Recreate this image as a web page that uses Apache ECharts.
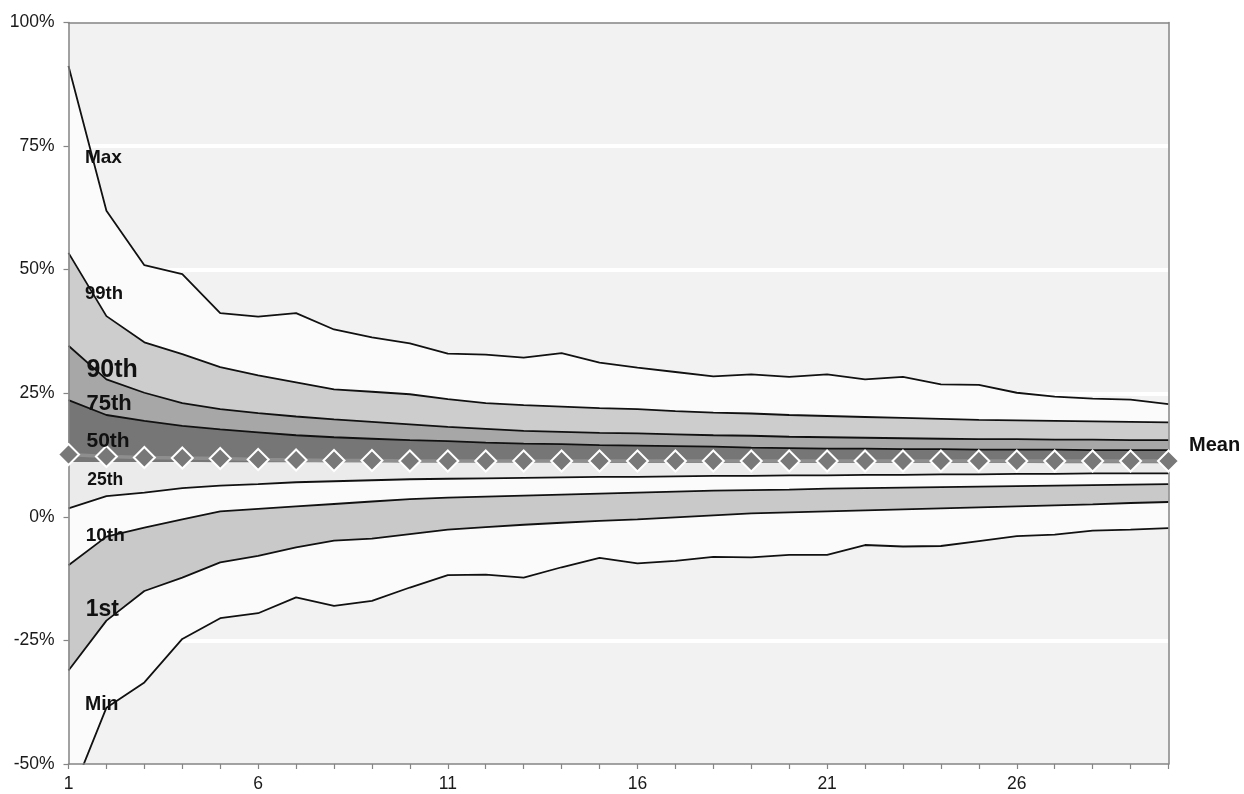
<!DOCTYPE html>
<html>
<head>
<meta charset="utf-8">
<script src="https://cdn.jsdelivr.net/npm/echarts@6/dist/echarts.min.js"></script>
<style>
html,body{margin:0;padding:0;background:#fff;}
#c{width:1244px;height:794px;}
</style>
</head>
<body>
<div id="c"></div>
<script>
// ---- data ----
const periods = ['1','2','3','4','5','6','7','8','9','10','11','12','13','14','15','16','17','18','19','20','21','22','23','24','25','26','27','28','29','30'];
const pMax = [91.2,61.9,50.9,49.1,41.2,40.5,41.2,37.9,36.3,35.1,33.0,32.8,32.2,33.1,31.2,30.2,29.3,28.4,28.8,28.3,28.8,27.8,28.3,26.8,26.7,25.1,24.3,23.9,23.7,22.8];
const p99 = [53.4,40.6,35.3,32.9,30.3,28.6,27.2,25.8,25.3,24.8,23.8,23.0,22.6,22.3,22.0,21.8,21.4,21.1,20.9,20.6,20.4,20.2,20.0,19.8,19.6,19.5,19.4,19.3,19.2,19.1];
const p90 = [34.6,27.8,25.1,23.0,21.8,21.0,20.3,19.7,19.2,18.7,18.2,17.8,17.4,17.2,17.0,16.9,16.7,16.5,16.4,16.2,16.1,16.0,15.9,15.8,15.7,15.7,15.6,15.6,15.5,15.5];
const p75 = [23.6,20.6,19.4,18.4,17.7,17.1,16.5,16.1,15.8,15.5,15.3,15.0,14.8,14.7,14.5,14.4,14.3,14.2,14.0,13.9,13.8,13.8,13.7,13.7,13.6,13.6,13.6,13.5,13.5,13.5];
const p50 = [11.1,11.1,11.1,11.1,11.0,11.0,11.0,11.0,11.0,11.0,11.0,11.0,11.0,11.0,10.9,10.9,10.9,10.9,10.9,10.9,10.9,10.9,10.9,10.9,10.9,10.9,10.8,10.8,10.8,10.8];
const p25 = [1.7,4.2,4.9,5.8,6.3,6.6,7.0,7.2,7.4,7.6,7.7,7.8,7.9,8.0,8.1,8.1,8.2,8.3,8.3,8.4,8.4,8.5,8.5,8.6,8.6,8.7,8.7,8.8,8.8,8.8];
const p10 = [-9.8,-4.0,-2.2,-0.5,1.1,1.6,2.1,2.6,3.1,3.6,3.9,4.1,4.3,4.5,4.7,4.9,5.1,5.3,5.4,5.5,5.7,5.8,5.9,6.0,6.1,6.2,6.3,6.4,6.5,6.6];
const p1 = [-31.1,-21.0,-15.0,-12.3,-9.2,-7.9,-6.2,-4.8,-4.4,-3.5,-2.6,-2.1,-1.6,-1.2,-0.8,-0.5,-0.1,0.3,0.7,0.9,1.1,1.3,1.5,1.7,1.9,2.1,2.3,2.5,2.8,3.0];
const pMin = [-57.7,-38.6,-33.5,-24.7,-20.5,-19.5,-16.3,-18.0,-17.0,-14.3,-11.8,-11.7,-12.3,-10.2,-8.3,-9.4,-8.9,-8.1,-8.2,-7.7,-7.7,-5.7,-6.0,-5.9,-4.9,-3.9,-3.6,-2.8,-2.6,-2.3];
const pMean = [12.6,12.2,12.0,11.9,11.8,11.6,11.5,11.4,11.4,11.3,11.3,11.3,11.3,11.3,11.3,11.3,11.3,11.3,11.3,11.3,11.3,11.3,11.3,11.3,11.3,11.3,11.3,11.3,11.3,11.3];
const yTicks = [-50,-25,0,25,50,75,100];
const bandNames = ['Min','1st','10th','25th','50th','75th','90th','99th','Max'];

// ---- styles / label placement ----
const FONT = "'Liberation Sans', Arial, Helvetica, sans-serif";
const bandColors = [null,'#fbfbfb','#c9c9c9','#fbfbfb','#ebebeb','#767676','#a7a7a7','#cdcdcd','#fbfbfb'];
const labelSpec = [
  {t:'Max',  x:1.42, y:72.6, s:19},
  {t:'99th', x:1.42, y:45.0, s:18.5},
  {t:'90th', x:1.46, y:29.7, s:25},
  {t:'75th', x:1.46, y:22.8, s:22},
  {t:'50th', x:1.46, y:15.4, s:21},
  {t:'25th', x:1.48, y:7.45, s:17.5},
  {t:'10th', x:1.44, y:-3.8, s:19},
  {t:'1st',  x:1.44, y:-18.7, s:23},
  {t:'Min',  x:1.42, y:-38.0, s:19.5}
];

const levels = [pMin,p1,p10,p25,p50,p75,p90,p99,pMax];
const series = [];
levels.forEach((arr, k) => {
  const data = arr.map((v, i) => k === 0 ? v : +(v - levels[k-1][i]).toFixed(3));
  const s = {
    name: bandNames[k],
    type: 'line',
    xAxisIndex: 0,
    yAxisIndex: 0,
    stack: 'bands',
    stackStrategy: 'all',
    data: data,
    symbol: 'none',
    z: 9 - k,
    silent: true,
    animation: false,
    lineStyle: {color: '#111', width: k === 4 ? 0 : 1.8},
  };
  if (k > 0) s.areaStyle = {color: bandColors[k], opacity: 1};
  series.push(s);
});

const meanData = periods.map((p, i) => {
  const item = {value: [Number(p), pMean[i]]};
  if (i === periods.length - 1) {
    item.label = {show: true, formatter: 'Mean', position: 'right', distance: 9, offset: [0, -15],
                  fontSize: 20, fontWeight: 'bold', color: '#111', fontFamily: FONT};
  }
  return item;
});

series.push({
  name: 'Mean',
  type: 'line',
  xAxisIndex: 1,
  yAxisIndex: 0,
  data: meanData,
  symbol: 'diamond',
  symbolSize: 21,
  z: 12,
  animation: false,
  lineStyle: {color: '#8e8e8e', width: 3.5},
  itemStyle: {color: '#787878', borderColor: '#ffffff', borderWidth: 2},
  markPoint: {
    z: 20,
    animation: false,
    symbol: 'rect',
    symbolSize: 1,
    itemStyle: {color: 'rgba(0,0,0,0)'},
    data: labelSpec.map(l => ({
      coord: [l.x, l.y],
      label: {show: true, position: 'right', distance: 0, formatter: l.t,
              fontSize: l.s, fontWeight: 'bold', color: '#111', fontFamily: FONT}
    }))
  }
});

const gray = '#858585';
const option = {
  backgroundColor: '#ffffff',
  animation: false,
  grid: {left: 68.5, right: 75.5, top: 22.5, bottom: 30, show: true,
         backgroundColor: '#f2f2f2', borderWidth: 0, containLabel: false, outerBoundsMode: 'none'},
  xAxis: [
    {type: 'category', data: periods, boundaryGap: false, position: 'bottom', z: 10,
     axisLine: {show: true, onZero: false, lineStyle: {color: gray, width: 1.5}},
     axisTick: {show: true, interval: 0, length: 5, lineStyle: {color: gray, width: 1.2}},
     axisLabel: {show: true, interval: 4, margin: 11, fontSize: 17.5, color: '#1a1a1a', fontFamily: FONT},
     splitLine: {show: false}},
    {type: 'value', min: 1, max: 30, interval: 1, position: 'top', z: 10,
     axisLine: {show: true, onZero: false, lineStyle: {color: gray, width: 1.5}},
     axisTick: {show: false}, axisLabel: {show: false}, splitLine: {show: false}}
  ],
  yAxis: [
    {type: 'value', min: yTicks[0], max: yTicks[yTicks.length-1], interval: 25, position: 'left', z: 10,
     axisLine: {show: true, onZero: false, lineStyle: {color: gray, width: 1.5}},
     axisTick: {show: true, length: 5, lineStyle: {color: gray, width: 1.2}},
     axisLabel: {show: true, margin: 14, fontSize: 17.5, color: '#1a1a1a', fontFamily: FONT,
                 formatter: v => v + '%'},
     splitLine: {show: false}},
    {type: 'value', min: yTicks[0], max: yTicks[yTicks.length-1], interval: 25, position: 'right', z: 10,
     axisLine: {show: true, onZero: false, lineStyle: {color: gray, width: 1.5}},
     axisTick: {show: false}, axisLabel: {show: false}, splitLine: {show: false}},
    {type: 'value', min: yTicks[0], max: yTicks[yTicks.length-1], interval: 25, position: 'left', z: 0,
     axisLine: {show: false}, axisTick: {show: false}, axisLabel: {show: false},
     splitLine: {show: true, lineStyle: {color: ['rgba(0,0,0,0)','#ffffff','#ffffff','#ffffff','#ffffff','#ffffff','rgba(0,0,0,0)'], width: 4}}}
  ],
  series: series
};

const chart = echarts.init(document.getElementById('c'), null, {renderer: 'canvas'});
chart.setOption(option);
</script>
</body>
</html>
